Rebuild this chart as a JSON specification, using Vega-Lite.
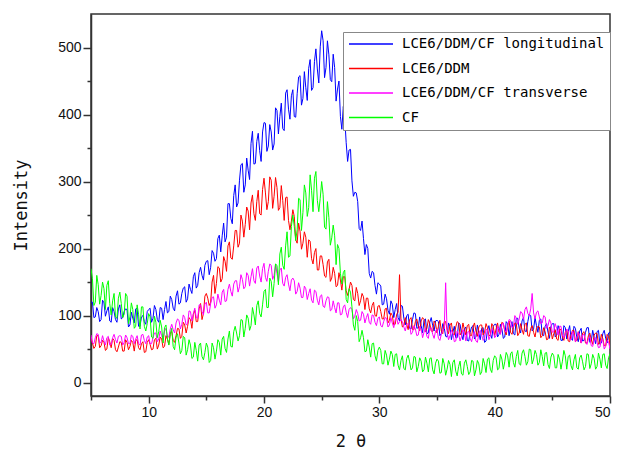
{
"$schema": "https://vega.github.io/schema/vega-lite/v6.json",
"width": 519, "height": 382,
"autosize": {"type": "none"},
"padding": {"left": 91, "top": 14, "right": 8, "bottom": 61},
"background": "white",
"config": {
  "view": {"stroke": "#333", "strokeWidth": 1.5},
  "axis": {"domainColor": "#333", "domainWidth": 1.5, "tickColor": "#333", "tickWidth": 1.5, "labelFont": "Liberation Sans", "labelFontSize": 14, "labelColor": "#111", "titleFont": "DejaVu Sans Mono", "titleFontSize": 17, "titleFontWeight": "normal", "titleColor": "#111", "grid": false, "labelPadding": 2, "labelOverlap": false}
},
"data": {"values": [
{"x":5,"L":120,"D":66,"T":71,"C":170},
{"x":5.125,"L":120,"D":59,"T":59,"C":155},
{"x":5.25,"L":97,"D":51,"T":58,"C":115},
{"x":5.375,"L":98,"D":54,"T":67,"C":120},
{"x":5.5,"L":112,"D":70,"T":73,"C":160},
{"x":5.625,"L":106,"D":70,"T":72,"C":146},
{"x":5.75,"L":91,"D":52,"T":59,"C":117},
{"x":5.875,"L":94,"D":55,"T":60,"C":130},
{"x":6,"L":123,"D":63,"T":70,"C":150},
{"x":6.125,"L":119,"D":60,"T":62,"C":140},
{"x":6.25,"L":99,"D":48,"T":56,"C":109},
{"x":6.375,"L":107,"D":50,"T":67,"C":145},
{"x":6.5,"L":113,"D":67,"T":69,"C":152},
{"x":6.625,"L":92,"D":61,"T":56,"C":118},
{"x":6.75,"L":90,"D":52,"T":57,"C":101},
{"x":6.875,"L":112,"D":66,"T":67,"C":122},
{"x":7,"L":106,"D":63,"T":72,"C":133},
{"x":7.125,"L":94,"D":49,"T":64,"C":98},
{"x":7.25,"L":90,"D":46,"T":59,"C":96},
{"x":7.375,"L":110,"D":53,"T":69,"C":126},
{"x":7.5,"L":116,"D":61,"T":70,"C":135},
{"x":7.625,"L":95,"D":60,"T":69,"C":118},
{"x":7.75,"L":97,"D":47,"T":56,"C":97},
{"x":7.875,"L":106,"D":47,"T":60,"C":102},
{"x":8,"L":110,"D":64,"T":71,"C":133},
{"x":8.125,"L":109,"D":60,"T":67,"C":129},
{"x":8.25,"L":83,"D":49,"T":58,"C":88},
{"x":8.375,"L":86,"D":54,"T":58,"C":98},
{"x":8.5,"L":105,"D":63,"T":71,"C":119},
{"x":8.625,"L":96,"D":60,"T":69,"C":109},
{"x":8.75,"L":89,"D":47,"T":58,"C":81},
{"x":8.875,"L":110,"D":63,"T":65,"C":84},
{"x":9,"L":111,"D":64,"T":70,"C":116},
{"x":9.125,"L":84,"D":52,"T":58,"C":102},
{"x":9.25,"L":84,"D":49,"T":56,"C":80},
{"x":9.375,"L":98,"D":58,"T":71,"C":113},
{"x":9.5,"L":100,"D":61,"T":72,"C":113},
{"x":9.625,"L":91,"D":45,"T":63,"C":84},
{"x":9.75,"L":87,"D":46,"T":58,"C":77},
{"x":9.875,"L":106,"D":60,"T":68,"C":88},
{"x":10,"L":109,"D":64,"T":70,"C":103},
{"x":10.125,"L":111,"D":57,"T":58,"C":98},
{"x":10.25,"L":90,"D":49,"T":58,"C":68},
{"x":10.375,"L":96,"D":50,"T":67,"C":66},
{"x":10.5,"L":115,"D":64,"T":74,"C":99},
{"x":10.625,"L":109,"D":66,"T":74,"C":90},
{"x":10.75,"L":94,"D":50,"T":61,"C":67},
{"x":10.875,"L":90,"D":56,"T":65,"C":76},
{"x":11,"L":112,"D":68,"T":77,"C":93},
{"x":11.125,"L":111,"D":65,"T":70,"C":83},
{"x":11.25,"L":94,"D":52,"T":64,"C":59},
{"x":11.375,"L":109,"D":54,"T":77,"C":82},
{"x":11.5,"L":121,"D":70,"T":81,"C":86},
{"x":11.625,"L":104,"D":65,"T":68,"C":65},
{"x":11.75,"L":106,"D":57,"T":68,"C":56},
{"x":11.875,"L":129,"D":75,"T":80,"C":72},
{"x":12,"L":124,"D":76,"T":87,"C":81},
{"x":12.125,"L":111,"D":63,"T":79,"C":54},
{"x":12.25,"L":107,"D":60,"T":74,"C":49},
{"x":12.375,"L":129,"D":70,"T":89,"C":68},
{"x":12.5,"L":137,"D":81,"T":95,"C":73},
{"x":12.625,"L":117,"D":80,"T":93,"C":59},
{"x":12.75,"L":119,"D":66,"T":80,"C":43},
{"x":12.875,"L":133,"D":69,"T":87,"C":48},
{"x":13,"L":141,"D":90,"T":101,"C":69},
{"x":13.125,"L":143,"D":86,"T":97,"C":67},
{"x":13.25,"L":120,"D":74,"T":86,"C":41},
{"x":13.375,"L":125,"D":84,"T":88,"C":49},
{"x":13.5,"L":147,"D":97,"T":107,"C":64},
{"x":13.625,"L":139,"D":94,"T":106,"C":56},
{"x":13.75,"L":133,"D":81,"T":92,"C":36},
{"x":13.875,"L":158,"D":102,"T":103,"C":38},
{"x":14,"L":164,"D":108,"T":111,"C":60},
{"x":14.125,"L":141,"D":91,"T":97,"C":48},
{"x":14.25,"L":145,"D":91,"T":96,"C":32},
{"x":14.375,"L":164,"D":110,"T":116,"C":56},
{"x":14.5,"L":172,"D":118,"T":116,"C":59},
{"x":14.625,"L":160,"D":94,"T":106,"C":39},
{"x":14.75,"L":153,"D":103,"T":101,"C":34},
{"x":14.875,"L":175,"D":129,"T":117,"C":45},
{"x":15,"L":181,"D":133,"T":120,"C":59},
{"x":15.125,"L":182,"D":126,"T":104,"C":53},
{"x":15.25,"L":161,"D":115,"T":104,"C":30},
{"x":15.375,"L":172,"D":120,"T":118,"C":33},
{"x":15.5,"L":197,"D":150,"T":127,"C":59},
{"x":15.625,"L":193,"D":160,"T":128,"C":52},
{"x":15.75,"L":181,"D":133,"T":111,"C":35},
{"x":15.875,"L":185,"D":148,"T":116,"C":47},
{"x":16,"L":215,"D":173,"T":132,"C":64},
{"x":16.125,"L":220,"D":171,"T":123,"C":60},
{"x":16.25,"L":195,"D":150,"T":116,"C":41},
{"x":16.375,"L":219,"D":155,"T":135,"C":65},
{"x":16.5,"L":238,"D":188,"T":139,"C":69},
{"x":16.625,"L":210,"D":181,"T":121,"C":51},
{"x":16.75,"L":217,"D":166,"T":122,"C":45},
{"x":16.875,"L":267,"D":204,"T":139,"C":65},
{"x":17,"L":267,"D":210,"T":147,"C":77},
{"x":17.125,"L":245,"D":186,"T":136,"C":54},
{"x":17.25,"L":237,"D":184,"T":129,"C":53},
{"x":17.375,"L":279,"D":204,"T":147,"C":76},
{"x":17.5,"L":295,"D":227,"T":152,"C":84},
{"x":17.625,"L":262,"D":227,"T":152,"C":74},
{"x":17.75,"L":268,"D":202,"T":135,"C":62},
{"x":17.875,"L":302,"D":208,"T":143,"C":70},
{"x":18,"L":325,"D":250,"T":161,"C":94},
{"x":18.125,"L":327,"D":241,"T":154,"C":93},
{"x":18.25,"L":284,"D":217,"T":140,"C":68},
{"x":18.375,"L":295,"D":236,"T":143,"C":81},
{"x":18.5,"L":335,"D":262,"T":164,"C":101},
{"x":18.625,"L":317,"D":256,"T":160,"C":96},
{"x":18.75,"L":303,"D":228,"T":144,"C":78},
{"x":18.875,"L":357,"D":268,"T":158,"C":85},
{"x":19,"L":375,"D":280,"T":170,"C":112},
{"x":19.125,"L":326,"D":252,"T":152,"C":101},
{"x":19.25,"L":327,"D":242,"T":148,"C":86},
{"x":19.375,"L":360,"D":270,"T":171,"C":115},
{"x":19.5,"L":372,"D":287,"T":174,"C":122},
{"x":19.625,"L":346,"D":252,"T":159,"C":103},
{"x":19.75,"L":330,"D":250,"T":150,"C":98},
{"x":19.875,"L":374,"D":288,"T":170,"C":116},
{"x":20,"L":388,"D":305,"T":178,"C":136},
{"x":20.125,"L":387,"D":283,"T":157,"C":139},
{"x":20.25,"L":345,"D":258,"T":151,"C":112},
{"x":20.375,"L":353,"D":270,"T":166,"C":112},
{"x":20.5,"L":385,"D":307,"T":177,"C":156},
{"x":20.625,"L":374,"D":302,"T":175,"C":151},
{"x":20.75,"L":347,"D":260,"T":154,"C":128},
{"x":20.875,"L":356,"D":278,"T":160,"C":148},
{"x":21,"L":410,"D":306,"T":177,"C":177},
{"x":21.125,"L":406,"D":291,"T":163,"C":175},
{"x":21.25,"L":371,"D":257,"T":150,"C":146},
{"x":21.375,"L":397,"D":261,"T":168,"C":192},
{"x":21.5,"L":417,"D":294,"T":171,"C":202},
{"x":21.625,"L":379,"D":272,"T":148,"C":175},
{"x":21.75,"L":376,"D":242,"T":144,"C":169},
{"x":21.875,"L":432,"D":276,"T":157,"C":204},
{"x":22,"L":437,"D":277,"T":161,"C":225},
{"x":22.125,"L":408,"D":242,"T":147,"C":187},
{"x":22.25,"L":393,"D":228,"T":137,"C":189},
{"x":22.375,"L":428,"D":241,"T":153,"C":233},
{"x":22.5,"L":437,"D":258,"T":156,"C":250},
{"x":22.625,"L":397,"D":248,"T":152,"C":233},
{"x":22.75,"L":396,"D":213,"T":132,"C":212},
{"x":22.875,"L":431,"D":208,"T":136,"C":228},
{"x":23,"L":456,"D":238,"T":149,"C":275},
{"x":23.125,"L":458,"D":226,"T":141,"C":273},
{"x":23.25,"L":414,"D":199,"T":127,"C":227},
{"x":23.375,"L":424,"D":208,"T":127,"C":254},
{"x":23.5,"L":464,"D":225,"T":144,"C":295},
{"x":23.625,"L":440,"D":217,"T":140,"C":283},
{"x":23.75,"L":421,"D":187,"T":124,"C":248},
{"x":23.875,"L":469,"D":213,"T":133,"C":261},
{"x":24,"L":482,"D":211,"T":140,"C":310},
{"x":24.125,"L":436,"D":185,"T":123,"C":287},
{"x":24.25,"L":440,"D":177,"T":119,"C":255},
{"x":24.375,"L":479,"D":194,"T":138,"C":305},
{"x":24.5,"L":498,"D":200,"T":136,"C":315},
{"x":24.625,"L":468,"D":168,"T":123,"C":272},
{"x":24.75,"L":447,"D":168,"T":116,"C":255},
{"x":24.875,"L":501,"D":189,"T":129,"C":275},
{"x":25,"L":525,"D":189,"T":131,"C":300},
{"x":25.125,"L":510,"D":176,"T":114,"C":281},
{"x":25.25,"L":455,"D":159,"T":112,"C":232},
{"x":25.375,"L":470,"D":157,"T":122,"C":229},
{"x":25.5,"L":510,"D":180,"T":128,"C":270},
{"x":25.625,"L":489,"D":184,"T":127,"C":246},
{"x":25.75,"L":452,"D":151,"T":107,"C":205},
{"x":25.875,"L":449,"D":156,"T":109,"C":216},
{"x":26,"L":490,"D":172,"T":122,"C":235},
{"x":26.125,"L":470,"D":163,"T":112,"C":219},
{"x":26.25,"L":420,"D":143,"T":104,"C":176},
{"x":26.375,"L":438,"D":145,"T":119,"C":206},
{"x":26.5,"L":450,"D":164,"T":119,"C":200},
{"x":26.625,"L":397,"D":153,"T":101,"C":163},
{"x":26.75,"L":378,"D":138,"T":102,"C":147},
{"x":26.875,"L":412,"D":158,"T":113,"C":164},
{"x":27,"L":395,"D":158,"T":116,"C":168},
{"x":27.125,"L":358,"D":137,"T":105,"C":124},
{"x":27.25,"L":330,"D":130,"T":97,"C":119},
{"x":27.375,"L":347,"D":139,"T":109,"C":140},
{"x":27.5,"L":348,"D":150,"T":112,"C":135},
{"x":27.625,"L":301,"D":145,"T":109,"C":113},
{"x":27.75,"L":278,"D":124,"T":95,"C":86},
{"x":27.875,"L":284,"D":122,"T":99,"C":78},
{"x":28,"L":283,"D":142,"T":109,"C":100},
{"x":28.125,"L":270,"D":133,"T":103,"C":91},
{"x":28.25,"L":230,"D":115,"T":92,"C":61},
{"x":28.375,"L":227,"D":122,"T":93,"C":67},
{"x":28.5,"L":241,"D":133,"T":106,"C":78},
{"x":28.625,"L":215,"D":128,"T":102,"C":67},
{"x":28.75,"L":191,"D":109,"T":89,"C":46},
{"x":28.875,"L":206,"D":126,"T":97,"C":47},
{"x":29,"L":200,"D":126,"T":103,"C":64},
{"x":29.125,"L":163,"D":110,"T":90,"C":53},
{"x":29.25,"L":156,"D":104,"T":87,"C":38},
{"x":29.375,"L":166,"D":115,"T":101,"C":58},
{"x":29.5,"L":164,"D":120,"T":100,"C":59},
{"x":29.625,"L":145,"D":100,"T":90,"C":40},
{"x":29.75,"L":132,"D":99,"T":85,"C":32},
{"x":29.875,"L":149,"D":114,"T":96,"C":48},
{"x":30,"L":147,"D":115,"T":98,"C":53},
{"x":30.125,"L":144,"D":106,"T":85,"C":48},
{"x":30.25,"L":116,"D":95,"T":83,"C":28},
{"x":30.375,"L":117,"D":95,"T":91,"C":28},
{"x":30.5,"L":132,"D":110,"T":97,"C":48},
{"x":30.625,"L":125,"D":111,"T":96,"C":41},
{"x":30.75,"L":108,"D":89,"T":83,"C":26},
{"x":30.875,"L":102,"D":93,"T":86,"C":35},
{"x":31,"L":122,"D":104,"T":97,"C":47},
{"x":31.125,"L":117,"D":100,"T":89,"C":42},
{"x":31.25,"L":97,"D":86,"T":82,"C":24},
{"x":31.375,"L":109,"D":87,"T":94,"C":42},
{"x":31.5,"L":118,"D":102,"T":97,"C":43},
{"x":31.625,"L":97,"D":105,"T":87,"C":26},
{"x":31.75,"L":92,"D":161,"T":91,"C":19},
{"x":31.875,"L":115,"D":95,"T":94,"C":33},
{"x":32,"L":114,"D":83,"T":91,"C":40},
{"x":32.125,"L":96,"D":85,"T":83,"C":21},
{"x":32.25,"L":86,"D":97,"T":77,"C":19},
{"x":32.375,"L":100,"D":87,"T":87,"C":36},
{"x":32.5,"L":102,"D":79,"T":88,"C":41},
{"x":32.625,"L":81,"D":94,"T":86,"C":31},
{"x":32.75,"L":80,"D":97,"T":72,"C":19},
{"x":32.875,"L":94,"D":79,"T":75,"C":22},
{"x":33,"L":104,"D":79,"T":85,"C":39},
{"x":33.125,"L":103,"D":91,"T":80,"C":38},
{"x":33.25,"L":81,"D":95,"T":70,"C":16},
{"x":33.375,"L":82,"D":84,"T":71,"C":24},
{"x":33.5,"L":98,"D":77,"T":84,"C":37},
{"x":33.625,"L":85,"D":92,"T":80,"C":32},
{"x":33.75,"L":74,"D":97,"T":67,"C":16},
{"x":33.875,"L":93,"D":94,"T":75,"C":19},
{"x":34,"L":95,"D":76,"T":81,"C":38},
{"x":34.125,"L":73,"D":81,"T":69,"C":29},
{"x":34.25,"L":74,"D":94,"T":66,"C":16},
{"x":34.375,"L":90,"D":88,"T":81,"C":36},
{"x":34.5,"L":97,"D":77,"T":82,"C":37},
{"x":34.625,"L":85,"D":76,"T":72,"C":19},
{"x":34.75,"L":77,"D":92,"T":66,"C":13},
{"x":34.875,"L":92,"D":88,"T":77,"C":29},
{"x":35,"L":93,"D":74,"T":80,"C":35},
{"x":35.125,"L":91,"D":84,"T":66,"C":32},
{"x":35.25,"L":70,"D":93,"T":63,"C":14},
{"x":35.375,"L":73,"D":77,"T":72,"C":15},
{"x":35.5,"L":88,"D":73,"T":78,"C":36},
{"x":35.625,"L":82,"D":91,"T":80,"C":28},
{"x":35.75,"L":69,"D":91,"T":149,"C":11},
{"x":35.875,"L":68,"D":79,"T":76,"C":20},
{"x":36,"L":89,"D":73,"T":64,"C":33},
{"x":36.125,"L":84,"D":86,"T":70,"C":27},
{"x":36.25,"L":64,"D":89,"T":78,"C":9},
{"x":36.375,"L":75,"D":73,"T":74,"C":30},
{"x":36.5,"L":84,"D":71,"T":61,"C":34},
{"x":36.625,"L":67,"D":83,"T":62,"C":17},
{"x":36.75,"L":67,"D":91,"T":77,"C":10},
{"x":36.875,"L":89,"D":89,"T":72,"C":24},
{"x":37,"L":87,"D":71,"T":62,"C":32},
{"x":37.125,"L":72,"D":75,"T":69,"C":13},
{"x":37.25,"L":64,"D":89,"T":79,"C":11},
{"x":37.375,"L":80,"D":79,"T":75,"C":29},
{"x":37.5,"L":83,"D":71,"T":62,"C":34},
{"x":37.625,"L":63,"D":85,"T":75,"C":24},
{"x":37.75,"L":62,"D":87,"T":77,"C":12},
{"x":37.875,"L":75,"D":70,"T":66,"C":16},
{"x":38,"L":83,"D":70,"T":61,"C":33},
{"x":38.125,"L":85,"D":83,"T":71,"C":32},
{"x":38.25,"L":65,"D":89,"T":76,"C":10},
{"x":38.375,"L":68,"D":77,"T":62,"C":19},
{"x":38.5,"L":86,"D":69,"T":60,"C":33},
{"x":38.625,"L":74,"D":83,"T":73,"C":28},
{"x":38.75,"L":64,"D":86,"T":78,"C":12},
{"x":38.875,"L":81,"D":86,"T":71,"C":16},
{"x":39,"L":82,"D":71,"T":63,"C":36},
{"x":39.125,"L":60,"D":75,"T":66,"C":28},
{"x":39.25,"L":62,"D":88,"T":79,"C":15},
{"x":39.375,"L":78,"D":82,"T":79,"C":35},
{"x":39.5,"L":85,"D":70,"T":64,"C":37},
{"x":39.625,"L":73,"D":71,"T":70,"C":20},
{"x":39.75,"L":66,"D":88,"T":80,"C":15},
{"x":39.875,"L":84,"D":84,"T":78,"C":33},
{"x":40,"L":87,"D":70,"T":67,"C":40},
{"x":40.125,"L":87,"D":80,"T":70,"C":37},
{"x":40.25,"L":68,"D":89,"T":84,"C":19},
{"x":40.375,"L":72,"D":75,"T":79,"C":21},
{"x":40.5,"L":87,"D":73,"T":72,"C":42},
{"x":40.625,"L":80,"D":90,"T":87,"C":35},
{"x":40.75,"L":66,"D":88,"T":89,"C":20},
{"x":40.875,"L":68,"D":77,"T":78,"C":31},
{"x":41,"L":91,"D":71,"T":75,"C":45},
{"x":41.125,"L":88,"D":86,"T":84,"C":40},
{"x":41.25,"L":70,"D":92,"T":94,"C":23},
{"x":41.375,"L":82,"D":75,"T":93,"C":43},
{"x":41.5,"L":91,"D":72,"T":82,"C":46},
{"x":41.625,"L":73,"D":82,"T":84,"C":30},
{"x":41.75,"L":71,"D":89,"T":100,"C":23},
{"x":41.875,"L":96,"D":88,"T":96,"C":39},
{"x":42,"L":96,"D":70,"T":87,"C":48},
{"x":42.125,"L":81,"D":74,"T":95,"C":28},
{"x":42.25,"L":74,"D":88,"T":106,"C":26},
{"x":42.375,"L":92,"D":79,"T":104,"C":44},
{"x":42.5,"L":97,"D":72,"T":94,"C":49},
{"x":42.625,"L":77,"D":87,"T":109,"C":39},
{"x":42.75,"L":76,"D":89,"T":113,"C":26},
{"x":42.875,"L":91,"D":70,"T":103,"C":31},
{"x":43,"L":102,"D":69,"T":100,"C":50},
{"x":43.125,"L":100,"D":81,"T":110,"C":49},
{"x":43.25,"L":77,"D":85,"T":133,"C":28},
{"x":43.375,"L":80,"D":75,"T":104,"C":35},
{"x":43.5,"L":97,"D":68,"T":95,"C":48},
{"x":43.625,"L":85,"D":81,"T":105,"C":42},
{"x":43.75,"L":75,"D":84,"T":107,"C":26},
{"x":43.875,"L":93,"D":83,"T":98,"C":30},
{"x":44,"L":95,"D":67,"T":88,"C":49},
{"x":44.125,"L":71,"D":70,"T":89,"C":39},
{"x":44.25,"L":70,"D":82,"T":100,"C":25},
{"x":44.375,"L":84,"D":76,"T":98,"C":44},
{"x":44.5,"L":88,"D":64,"T":81,"C":45},
{"x":44.625,"L":75,"D":65,"T":85,"C":27},
{"x":44.75,"L":66,"D":83,"T":94,"C":21},
{"x":44.875,"L":84,"D":79,"T":89,"C":38},
{"x":45,"L":88,"D":65,"T":75,"C":44},
{"x":45.125,"L":88,"D":73,"T":76,"C":40},
{"x":45.25,"L":68,"D":79,"T":88,"C":22},
{"x":45.375,"L":71,"D":65,"T":81,"C":22},
{"x":45.5,"L":85,"D":63,"T":71,"C":42},
{"x":45.625,"L":78,"D":80,"T":84,"C":35},
{"x":45.75,"L":63,"D":79,"T":84,"C":20},
{"x":45.875,"L":63,"D":68,"T":71,"C":32},
{"x":46,"L":85,"D":63,"T":67,"C":48},
{"x":46.125,"L":82,"D":75,"T":73,"C":40},
{"x":46.25,"L":65,"D":78,"T":80,"C":20},
{"x":46.375,"L":76,"D":62,"T":77,"C":39},
{"x":46.5,"L":85,"D":61,"T":64,"C":41},
{"x":46.625,"L":66,"D":71,"T":64,"C":25},
{"x":46.75,"L":63,"D":78,"T":77,"C":19},
{"x":46.875,"L":84,"D":78,"T":72,"C":34},
{"x":47,"L":81,"D":61,"T":61,"C":42},
{"x":47.125,"L":67,"D":63,"T":67,"C":22},
{"x":47.25,"L":61,"D":76,"T":75,"C":20},
{"x":47.375,"L":77,"D":67,"T":71,"C":37},
{"x":47.5,"L":81,"D":59,"T":59,"C":41},
{"x":47.625,"L":62,"D":74,"T":71,"C":31},
{"x":47.75,"L":63,"D":76,"T":72,"C":19},
{"x":47.875,"L":75,"D":59,"T":61,"C":24},
{"x":48,"L":82,"D":59,"T":57,"C":43},
{"x":48.125,"L":82,"D":70,"T":65,"C":42},
{"x":48.25,"L":60,"D":74,"T":69,"C":21},
{"x":48.375,"L":62,"D":64,"T":55,"C":28},
{"x":48.5,"L":78,"D":57,"T":54,"C":42},
{"x":48.625,"L":67,"D":71,"T":65,"C":36},
{"x":48.75,"L":58,"D":74,"T":67,"C":20},
{"x":48.875,"L":76,"D":73,"T":60,"C":24},
{"x":49,"L":78,"D":57,"T":52,"C":44},
{"x":49.125,"L":57,"D":60,"T":53,"C":35},
{"x":49.25,"L":59,"D":72,"T":64,"C":22},
{"x":49.375,"L":73,"D":66,"T":64,"C":42},
{"x":49.5,"L":78,"D":55,"T":50,"C":43},
{"x":49.625,"L":66,"D":55,"T":54,"C":26},
{"x":49.75,"L":59,"D":72,"T":63,"C":21},
{"x":49.875,"L":74,"D":69,"T":61,"C":37},
{"x":50,"L":75,"D":56,"T":50,"C":43}
]},
"transform": [{"fold": ["L", "D", "T", "C"], "as": ["series", "y"]}],
"mark": {"type": "line", "strokeWidth": 1, "clip": true},
"encoding": {
  "x": {"field": "x", "type": "quantitative",
    "scale": {"domain": [5, 50], "nice": false, "zero": false},
    "axis": {"title": "2 θ", "values": [5,10,15,20,25,30,35,40,45,50],
      "labelExpr": "datum.value % 10 === 0 ? datum.label : ''",
      "tickSize": {"condition": {"test": "datum.value % 10 === 0", "value": 7}, "value": 4},
      "titlePadding": 14}},
  "y": {"field": "y", "type": "quantitative",
    "scale": {"domain": [-20, 550], "nice": false, "zero": false},
    "axis": {"title": "Intensity", "values": [0,50,100,150,200,250,300,350,400,450,500],
      "labelExpr": "datum.value % 100 === 0 ? datum.label : ''",
      "tickSize": {"condition": {"test": "datum.value % 100 === 0", "value": 8}, "value": 4},
      "titlePadding": 27}},
  "color": {"field": "series", "type": "nominal",
    "scale": {"domain": ["L", "D", "T", "C"], "range": ["#0000FF", "#FF0000", "#FF00FF", "#00FF00"]},
    "legend": {"title": null, "orient": "none", "legendX": 252, "legendY": 18, "direction": "vertical",
      "symbolType": "stroke", "symbolSize": 1936, "symbolStrokeWidth": 1.5, "clipHeight": 14,
      "labelFont": "DejaVu Sans Mono", "labelFontSize": 14, "labelColor": "#000", "labelOffset": 8, "labelLimit": 400,
      "padding": 5, "rowPadding": 10.5, "strokeColor": "#888", "fillColor": "white",
      "labelExpr": "datum.label === 'L' ? 'LCE6/DDM/CF longitudinal' : datum.label === 'D' ? 'LCE6/DDM' : datum.label === 'T' ? 'LCE6/DDM/CF transverse' : 'CF'"}}
}
}
